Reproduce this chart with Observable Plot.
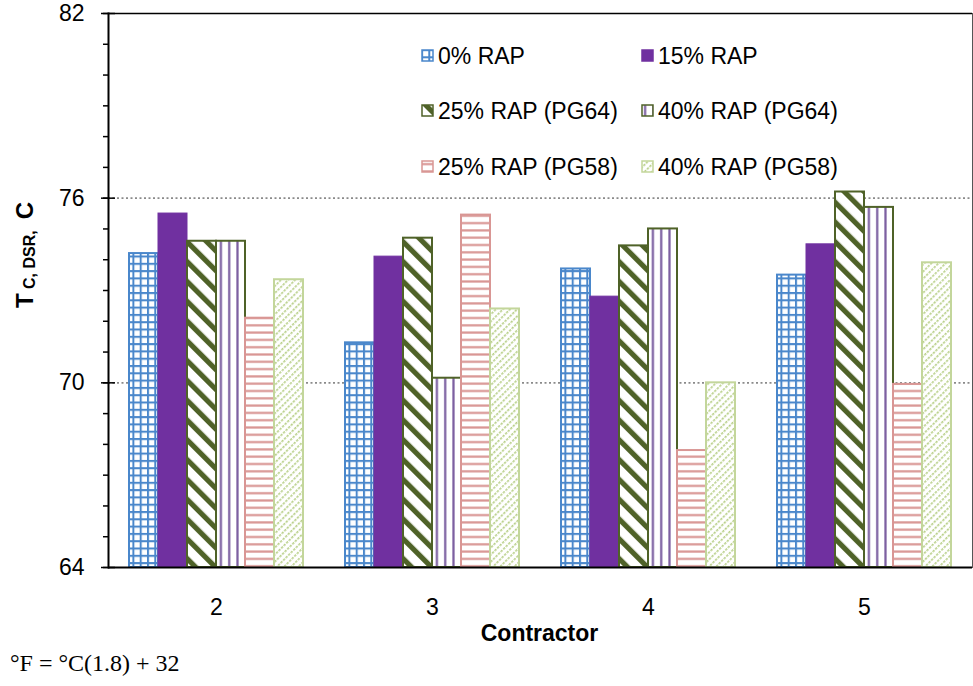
<!DOCTYPE html>
<html>
<head>
<meta charset="utf-8">
<script src="https://cdn.jsdelivr.net/npm/d3@7"></script>
<script src="https://cdn.jsdelivr.net/npm/@observablehq/plot@0.6"></script>
<style>
  html, body { margin: 0; padding: 0; background: #fff; }
  #wrap { position: relative; width: 973px; height: 686px; font-family: "Liberation Sans", Arial, sans-serif; }
  .leg { position: absolute; font-size: 23px; line-height: 26px; white-space: pre; color: #000; }
  .leg svg { position: absolute; }
  #note { position: absolute; left: 10px; top: 651px; font-family: "Liberation Serif", "Times New Roman", serif; font-size: 24px; line-height: 24px; white-space: pre; }
</style>
</head>
<body>
<div id="wrap"></div>
<script>
// ---- data ----
const contractors = ["2", "3", "4", "5"];
const series = ["0% RAP", "15% RAP", "25% RAP (PG64)", "40% RAP (PG64)", "25% RAP (PG58)", "40% RAP (PG58)"];
const rap0 = [74.2, 71.3, 73.7, 73.5];
const rap15 = [75.5, 74.1, 72.8, 74.5];
const rap25pg64 = [74.6, 74.7, 74.45, 76.2];
const rap40pg64 = [74.6, 70.15, 75.0, 75.7];
const rap25pg58 = [72.1, 75.45, 67.8, 69.95];
const rap40pg58 = [73.35, 72.4, 70.0, 73.9];
const majorTicks = [64, 70, 76, 82];
const gridTicks = [70, 76];
const minorTicks = d3.range(64, 83, 1);

// ---- styles ----
const fills = ["url(#pGrid)", "#7030A0", "url(#pDiag)", "url(#pVert)", "url(#pHorz)", "url(#pDash)"];
const strokes = ["#4A87CB", "#7030A0", "#4F6228", "#4F6228", "#D99694", "#C3D69B"];

const valuesBySeries = [rap0, rap15, rap25pg64, rap40pg64, rap25pg58, rap40pg58];
const rows = contractors.flatMap((c, i) => series.map((s, j) => ({contractor: c, series: s, value: valuesBySeries[j][i]})));

const chart = Plot.plot({
  width: 973,
  height: 650,
  marginLeft: 107,
  marginRight: 1,
  marginTop: 13,
  marginBottom: 83,
  style: {fontFamily: "'Liberation Sans', Arial, sans-serif", fontSize: "23px", background: "white", color: "black", overflow: "visible"},
  fx: {domain: contractors, padding: 0},
  x: {domain: series, paddingInner: 0, paddingOuter: 0.72, axis: null},
  y: {domain: [64, 82]},
  color: {type: "ordinal", domain: series, range: fills},
  marks: [
    Plot.gridY(gridTicks, {stroke: "#8a8a8a", strokeOpacity: 1, strokeDasharray: "2,2.5", strokeWidth: 1.6}),
    ...series.map((s, j) => Plot.barY(rows.filter(d => d.series === s), {
      fx: "contractor", x: "series", y1: 64, y2: "value",
      fill: "series", stroke: strokes[j], strokeWidth: j === 1 ? 1 : 2
    })),
    Plot.ruleY([64], {stroke: "black", strokeWidth: 2}),
    Plot.ruleY([82], {stroke: "black", strokeWidth: 1.5}),
    Plot.frame({anchor: "left", facetAnchor: "left", stroke: "black", strokeWidth: 2}),
    Plot.frame({anchor: "right", facetAnchor: "right", stroke: "#555", strokeWidth: 1}),
    Plot.axisY(minorTicks, {tickSize: 5, fill: "none", label: null, strokeWidth: 1.5}),
    Plot.axisY(majorTicks, {tickSize: 14, dx: 7, fill: "none", label: null, strokeWidth: 1.5}),
    Plot.axisY(majorTicks, {tickSize: 0, tickPadding: 24, fontSize: 23, label: null, stroke: "none"}),
    Plot.axisFx({anchor: "bottom", tickSize: 0, tickPadding: 31, fontSize: 23, label: null})
  ]
});

// ---- patterns ----
const svg = d3.select(chart);
const defs = svg.insert("defs", ":first-child");
function pat(id, w, h, tr) {
  const p = defs.append("pattern").attr("id", id).attr("patternUnits", "userSpaceOnUse").attr("width", w).attr("height", h);
  if (tr) p.attr("patternTransform", tr);
  p.append("rect").attr("width", w).attr("height", h).attr("fill", "white");
  return p;
}
let p = pat("pGrid", 7.3, 7.3);
p.append("path").attr("d", "M0,1H7.3M1,0V7.3").attr("stroke", "#4A87CB").attr("stroke-width", 2);
p = pat("pDiag", 14, 14, "rotate(-45)");
p.append("rect").attr("width", 5.2).attr("height", 14).attr("fill", "#4F6228");
p = pat("pVert", 8.3, 10);
p.append("rect").attr("x", 3).attr("width", 2.2).attr("height", 10).attr("fill", "#7B5EA0");
p = pat("pHorz", 10, 7.3);
p.append("rect").attr("y", 3).attr("width", 10).attr("height", 2.2).attr("fill", "#D99694");
p = pat("pDash", 5, 3.6, "rotate(45)");
p.append("rect").attr("width", 1.7).attr("height", 2.4).attr("fill", "#B9D08A");

// ---- axis titles ----
const yt = svg.append("text")
  .attr("transform", "translate(33,255) rotate(-90)")
  .attr("text-anchor", "middle")
  .attr("font-weight", "bold")
  .attr("font-size", 24)
  .style("white-space", "pre")
  .attr("fill", "black");
yt.append("tspan").text("T");
yt.append("tspan").attr("font-size", 16).attr("dy", 2).text(" C, DSR, ");
yt.append("tspan").attr("dy", -2).text(" C");

svg.append("text")
  .attr("x", 539.5).attr("y", 641)
  .attr("text-anchor", "middle")
  .attr("font-weight", "bold")
  .attr("font-size", 23)
  .attr("fill", "black")
  .text("Contractor");

const wrap = document.getElementById("wrap");
wrap.appendChild(chart);

// ---- legend ----
const legendPos = [
  {sx: 422, tx: 438, cy: 56}, {sx: 642, tx: 658, cy: 56},
  {sx: 422, tx: 438, cy: 111}, {sx: 642, tx: 658, cy: 111},
  {sx: 422, tx: 438, cy: 167}, {sx: 642, tx: 658, cy: 167}
];
series.forEach((s, j) => {
  const pos = legendPos[j];
  const sw = d3.select(wrap).append("svg")
    .style("position", "absolute").style("left", (pos.sx - 1) + "px").style("top", (pos.cy - 7) + "px")
    .attr("width", 14).attr("height", 14);
  sw.append("rect").attr("x", 1).attr("y", 1).attr("width", 11).attr("height", 11)
    .attr("fill", fills[j]).attr("stroke", strokes[j]).attr("stroke-width", 1.5);
  d3.select(wrap).append("div").attr("class", "leg")
    .style("left", pos.tx + "px").style("top", (pos.cy - 13) + "px")
    .text(s);
});

d3.select(wrap).append("div").attr("id", "note").text("°F = °C(1.8) + 32");
</script>
</body>
</html>
